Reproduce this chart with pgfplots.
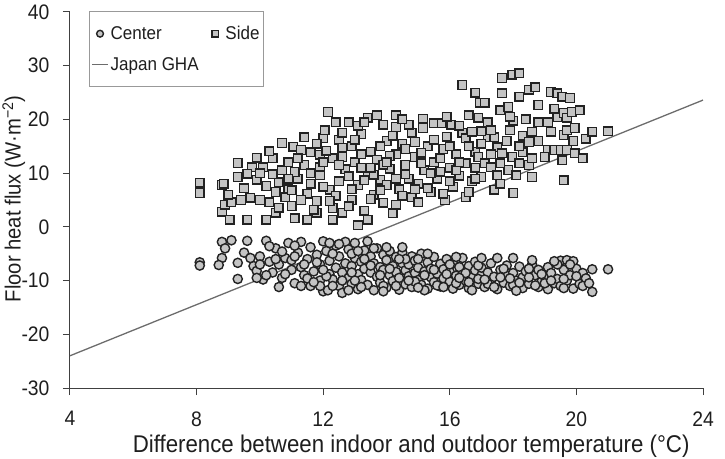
\documentclass[border=0pt]{standalone}
\usepackage{pgfplots}
\pgfplotsset{compat=1.18}
\usepackage{fontspec}
\setmainfont{Liberation Sans}[FakeStretch=0.92]
\definecolor{axgray}{HTML}{404040}
\definecolor{mkfill}{HTML}{C4C4C4}
\definecolor{mkedge}{HTML}{222222}
\definecolor{txt}{HTML}{1E1E1E}
\pgfplotsset{
  legmark/.style={legend image code/.code={\path (0bp,0bp) (16bp,0bp); \draw[##1,mark size=#1] plot coordinates {(8bp,0bp)};}},
  legline/.style={legend image code/.code={\draw[##1] (0bp,0bp) -- (16bp,0bp);}},
}
\begin{document}
\begin{tikzpicture}
\useasboundingbox (-70bp,-71bp) rectangle (655bp,388bp);
\begin{axis}[
  scale only axis,
  width=633bp, height=376bp,
  xmin=4, xmax=24, ymin=-30, ymax=40,
  xtick={4,8,...,24}, ytick={-30,-20,...,40},
  axis lines=left,
  axis line style={-, axgray, line width=1bp},
  tick style={axgray, line width=1bp},
  tick align=outside,
  major tick length=7bp,
  /pgf/number format/assume math mode=true,
  ticklabel style={font=\fontsize{21bp}{24bp}\selectfont, text=txt},
  xticklabel style={yshift=-13bp},
  yticklabel style={xshift=-10bp},
  xlabel={Difference between indoor and outdoor temperature (°C)},
  ylabel={Floor heat flux (W·m\textsuperscript{−2})},
  xlabel style={at={(axis description cs:0.539,-0.155)}, anchor=center, font=\fontsize{24.2bp}{27bp}\selectfont, text=txt},
  ylabel style={at={(axis description cs:-0.089,0.503)}, anchor=center, font=\fontsize{22bp}{25bp}\selectfont, text=txt},
  clip=false,
  legend columns=2,
  legend cell align=left,
  legend style={at={(axis description cs:0.03,1.003)}, anchor=north west,
    draw=gray!80, line width=0.8bp, font=\fontsize{18.5bp}{21bp}\selectfont,
    text=txt, row sep=12bp, inner xsep=2bp, inner ysep=13bp,
    /tikz/every even column/.append style={column sep=6bp}},
]
\addplot[only marks, mark=*, mark size=4.6bp, mark options={fill=mkfill, draw=mkedge, line width=1.4bp},
  legmark=3.4bp] coordinates {
(8.1,-6.6) (8.1,-7.2) (8.8,-2.8) (9.1,-2.5) (8.9,-4.0) (8.8,-5.8) (8.7,-7.1) (9.3,-6.7) (9.3,-9.7) (9.6,-2.6)
(10.2,-2.6) (9.8,-7.3) (9.9,-8.2) (10.0,-5.5) (10.1,-9.8) (10.3,-6.5) (10.4,-8.5) (10.5,-4.0) (10.6,-7.0) (10.7,-9.5)
(10.8,-5.8) (10.9,-3.0) (11.0,-8.0) (11.0,-6.2) (11.1,-10.5) (11.2,-4.8) (11.3,-7.5) (11.3,-2.8) (11.4,-9.0) (11.5,-6.0)
(11.6,-11.0) (11.6,-3.8) (11.7,-8.3) (11.8,-5.2) (11.9,-10.0) (11.9,-7.0) (12.0,-2.7) (12.0,-12.0) (12.1,-4.5) (12.15,-11.8)
(12.2,-8.8) (12.2,-6.3) (12.3,-9.8) (12.4,-3.5) (12.4,-7.6) (12.5,-5.5) (12.5,-11.0) (12.6,-12.3) (12.6,-8.5) (12.7,-2.8)
(12.7,-6.8) (12.8,-9.5) (12.8,-4.2) (12.9,-10.6) (12.9,-7.3) (13.0,-5.8) (13.0,-3.0) (13.1,-8.8) (13.1,-11.6) (13.2,-6.5)
(13.2,-9.9) (13.3,-4.4) (13.3,-7.8) (13.4,-10.8) (13.4,-2.7) (13.5,-5.5) (13.5,-8.5) (13.6,-11.8) (13.6,-6.8) (13.7,-9.3)
(13.7,-4.0) (13.8,-7.5) (13.8,-10.4) (13.9,-5.2) (13.9,-8.0) (14.0,-11.3) (14.0,-6.2) (14.1,-9.0) (14.1,-4.5) (14.2,-7.3)
(14.2,-10.1) (14.3,-8.4) (14.3,-5.6) (14.4,-11.7) (14.4,-9.5) (14.5,-6.8) (14.5,-4.8) (14.6,-8.1) (14.6,-10.7) (14.7,-7.0)
(14.7,-9.2) (14.8,-5.5) (14.8,-11.2) (14.9,-8.6) (14.9,-6.3) (15.0,-9.9) (15.0,-7.6) (15.1,-5.0) (15.1,-10.8) (15.2,-8.3)
(15.3,-6.6) (15.3,-11.5) (15.4,-9.4) (15.4,-7.8) (15.5,-5.6) (15.5,-10.3) (15.6,-8.7) (15.7,-6.9) (15.7,-11.1) (15.8,-9.6)
(15.8,-7.9) (15.9,-6.0) (16.0,-10.2) (16.0,-8.4) (16.1,-11.5) (16.1,-6.8) (16.2,-9.1) (16.3,-7.5) (16.3,-10.8) (16.4,-5.8)
(16.4,-8.9) (16.5,-10.0) (16.6,-7.3) (16.6,-11.4) (16.7,-9.4) (16.8,-8.1) (16.8,-6.5) (16.9,-10.6) (17.0,-9.0) (17.0,-7.6)
(17.1,-11.2) (17.2,-8.5) (17.3,-10.0) (17.3,-6.8) (17.4,-9.3) (17.5,-5.8) (17.5,-11.6) (17.6,-8.0) (17.7,-10.4) (17.8,-9.0)
(17.8,-7.2) (17.9,-11.0) (18.0,-5.8) (18.0,-8.6) (18.1,-10.0) (18.2,-7.4) (18.3,-9.4) (18.3,-11.4) (18.4,-8.3) (18.5,-10.6)
(18.6,-7.0) (18.7,-9.0) (18.8,-11.2) (18.8,-8.0) (18.9,-10.2) (19.0,-9.3) (19.1,-11.6) (19.1,-7.5) (19.2,-8.6) (19.3,-10.5)
(19.4,-9.7) (19.5,-6.3) (19.5,-11.0) (19.6,-8.0) (19.7,-6.2) (19.7,-10.0) (19.8,-9.0) (19.9,-6.4) (19.9,-11.5) (20.0,-7.8)
(20.1,-10.6) (20.2,-8.6) (20.3,-9.6) (20.5,-12.1) (20.5,-7.9) (21.0,-7.9)
(11.5,-9.6) (11.8,-6.6) (12.1,-9.2) (12.3,-5.0) (12.6,-10.0) (12.9,-5.0) (13.2,-11.2) (13.5,-7.2) (13.8,-9.0) (14.0,-3.8)
(14.3,-11.0) (14.6,-6.0) (14.9,-10.2) (15.2,-9.0) (15.6,-10.9) (15.9,-8.8) (16.2,-10.5) (16.5,-8.6) (16.9,-9.7) (17.2,-10.6)
(17.6,-9.4) (18.0,-10.8) (18.5,-9.4) (19.0,-10.5) (9.5,-4.8) (10.6,-11.2) (11.9,-11.0) (10.3,-3.6)
(10.0,-7.0) (10.2,-9.0) (10.5,-6.0) (10.8,-8.8) (11.1,-5.5) (11.4,-7.0) (11.7,-10.3) (12.0,-8.0) (12.3,-11.0) (12.5,-3.2)
(12.9,-8.5) (13.0,-10.0) (13.3,-6.0) (13.6,-4.0) (13.9,-11.0) (14.1,-7.8) (14.4,-6.0) (14.7,-10.0) (15.0,-6.0) (15.2,-11.8)
(15.5,-8.0) (15.8,-11.2) (16.0,-7.0) (16.3,-9.5) (16.6,-10.3) (16.9,-7.2) (17.1,-9.8) (17.4,-11.2) (17.7,-7.8) (17.9,-9.6)
(18.2,-10.4) (18.5,-7.8) (18.7,-10.9) (18.9,-8.8) (19.2,-10.0) (19.4,-7.0) (19.6,-11.4) (19.8,-7.0) (20.0,-9.2) (20.2,-11.0)
(19.3,-6.4) (18.6,-6.2) (17.0,-5.8) (16.2,-5.6) (15.3,-5.0) (14.5,-3.8) (13.1,-4.5) (12.2,-3.0) (11.1,-3.5) (10.7,-4.6)
(9.7,-5.8) (9.9,-9.5) (11.3,-11.0) (12.8,-11.8) (13.9,-12.0) (15.0,-11.3) (16.7,-11.8) (18.1,-11.9) (19.6,-9.7) (20.4,-10.5)
};
\addlegendentry{Center}
\addplot[only marks, mark=square*, mark size=4.3bp, mark options={fill=mkfill, draw=mkedge, line width=1.4bp},
  legmark=3.2bp] coordinates {
(8.1,8.2) (8.1,6.3) (8.8,7.8) (8.85,8.0) (8.8,2.8) (8.9,4.1) (9.05,1.3) (9.1,4.6) (9.3,11.9) (9.3,9.3)
(9.4,5.0) (9.6,1.3) (9.7,5.4) (9.75,11.1) (10.0,5.0) (10.1,11.1) (10.2,1.3) (10.3,4.6) (10.4,12.8) (10.5,2.6)
(10.7,15.6) (11.05,14.9) (11.3,14.3) (10.7,10.5) (10.6,8.3) (10.9,7.0) (10.4,9.8) (10.2,7.6) (9.9,8.8) (10.8,5.5)
(11.0,3.9) (11.1,1.6) (11.2,9.0) (11.4,11.5) (11.5,1.3) (11.5,6.2) (11.6,13.9) (11.6,8.0) (11.8,2.6) (11.8,4.8)
(11.9,13.4) (11.9,11.1) (11.9,9.6) (12.0,16.5) (12.05,18.0) (12.15,21.4) (12.3,12.8) (12.3,1.3) (12.2,6.9) (12.3,3.5)
(12.4,19.5) (12.5,16.2) (12.6,13.0) (12.6,2.6) (12.5,8.5) (12.7,10.7) (12.8,19.5) (12.9,5.0) (12.9,15.0) (13.0,12.0)
(13.1,0.3) (13.1,7.8) (13.2,17.3) (13.3,3.0) (13.4,20.3) (13.4,1.3) (13.4,10.0) (13.5,14.0) (13.6,6.0) (13.7,20.8)
(13.7,12.5) (13.8,8.8) (13.9,19.0) (13.9,4.5) (14.0,16.0) (14.1,10.8) (14.2,2.5) (14.3,20.8) (14.3,18.6) (14.3,4.1)
(14.3,13.5) (14.4,7.0) (14.5,15.5) (14.6,11.5) (14.7,9.0) (14.8,5.5) (14.8,17.5) (14.9,13.0) (15.0,4.6) (15.0,8.0)
(15.15,20.1) (15.15,18.4) (15.2,10.5) (15.3,15.0) (15.4,6.5) (15.5,19.3) (15.5,12.0) (15.6,9.0) (15.75,19.3) (15.8,14.5)
(15.85,5.0) (15.9,16.8) (16.05,19.0) (16.0,11.0) (16.1,7.5) (16.2,13.5) (16.3,9.5) (16.4,26.4) (16.4,17.5) (16.5,5.55)
(16.5,16.5) (16.5,11.8) (16.6,20.8) (16.7,17.7) (16.7,8.5) (16.8,14.0) (16.9,20.3) (16.9,13.0) (16.95,23.1) (17.0,9.3)
(17.1,23.1) (17.1,11.8) (17.2,19.5) (17.2,16.7) (17.3,11.1) (17.4,16.7) (17.4,6.9) (17.5,9.6) (17.5,14.8) (17.6,21.7)
(17.65,24.9) (17.65,27.7) (17.65,13.7) (17.85,22.3) (17.85,10.6) (17.97,28.3) (17.97,13.0) (18.0,6.3) (18.1,9.6) (18.2,28.6)
(18.2,24.2) (18.3,13.9) (18.3,17.0) (18.5,25.5) (18.5,15.8) (18.5,11.5) (18.6,17.7) (18.6,12.8) (18.6,9.3) (18.8,22.7)
(18.8,19.5) (19.1,19.5) (19.1,14.3) (19.2,25.1) (19.2,17.7) (19.3,14.3) (19.4,24.9) (19.4,20.4) (19.5,14.3) (19.55,24.2)
(19.55,12.4) (19.6,21.2) (19.6,17.1) (19.6,8.7) (19.7,20.3) (19.7,18.0) (19.7,14.3) (19.8,24.0) (19.85,21.4) (19.95,18.4)
(19.95,13.7) (20.1,21.7) (20.2,12.8) (20.3,16.4) (20.5,17.7) (21.0,17.8)
(10.9,12.0) (11.1,10.2) (11.3,5.0) (11.7,3.2) (12.0,7.5) (12.1,14.2) (12.4,5.8) (12.8,9.4) (12.8,3.8) (13.0,16.2)
(13.2,11.0) (13.3,8.7) (13.5,5.2) (13.6,9.7) (13.8,15.0) (13.9,11.6) (14.0,7.8) (14.1,13.2) (14.2,17.0) (14.5,5.8)
(14.6,9.8) (14.9,15.8) (15.1,11.8) (15.3,7.2) (15.5,16.2) (15.7,10.3) (15.8,6.2) (16.0,15.0) (16.2,10.5) (16.3,18.8)
(16.6,6.5) (16.8,9.0) (17.0,15.5) (17.3,18.0) (17.6,8.0) (17.8,16.0) (18.0,19.8) (18.2,11.8) (17.9,20.5) (14.7,19.0)
(13.1,18.8) (12.6,14.7) (11.4,16.7) (11.0,6.8) (10.6,3.6) (9.6,9.9) (9.9,12.9) (10.3,14.1)
(9.0,6.0) (9.5,7.2) (10.0,10.0) (10.5,6.5) (10.9,9.0) (11.2,12.8) (11.6,10.0) (12.0,12.0) (12.2,4.8) (12.5,11.5)
(12.9,7.0) (13.2,13.5) (13.5,11.0) (13.8,6.8) (14.0,12.0) (14.3,9.0) (14.6,14.5) (14.9,7.0) (15.1,13.8) (15.4,10.0)
(15.7,12.8) (16.0,8.5) (16.3,12.0) (16.6,15.0) (16.8,11.0) (17.0,17.8) (17.3,13.5) (17.6,11.8) (17.9,18.0) (18.2,15.0)
(18.4,20.0) (18.8,16.0) (19.0,13.0) (19.3,22.0) (19.9,16.0) (15.9,20.5) (14.5,20.0) (13.3,19.5) (12.6,17.5) (11.8,15.5)
(16.8,25.0) (18.7,26.0)
};
\addlegendentry{Side}
\addplot[color=gray!85!black, line width=1.3bp, legline] coordinates {(4,-24) (24,23.6)};
\addlegendentry{Japan GHA}
\end{axis}
\end{tikzpicture}
\end{document}
